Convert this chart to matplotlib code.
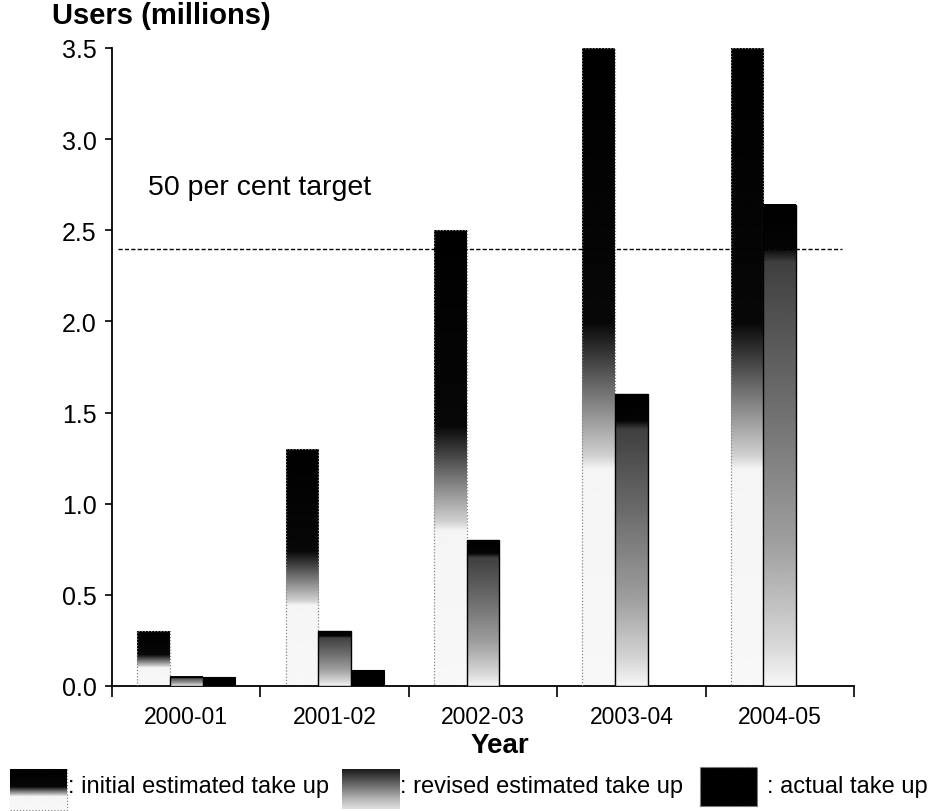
import numpy as np
import matplotlib
matplotlib.use("Agg")
import matplotlib.pyplot as plt
from matplotlib.patches import Rectangle
from matplotlib.ticker import FixedLocator, FormatStrFormatter

plt.rcParams['font.family'] = ['Liberation Sans', 'DejaVu Sans']

# Take-up of the service, millions of users
years = ["2000-01", "2001-02", "2002-03", "2003-04", "2004-05"]
initial_estimate = [0.30, 1.30, 2.50, 3.50, 3.50]
revised_estimate = [0.05, 0.30, 0.80, 1.60, 2.64]
actual_take_up = [0.05, 0.09, 0.0, 0.0, 0.0]
target = 2.4
target_label = "50 per cent target"

W, H = 930, 812
fig = plt.figure(figsize=(W / 100, H / 100), dpi=100)
ax = fig.add_axes([112 / W, 125 / H, 742 / W, 638 / H])


def initial_profile(f):
    # black upper part fading through grey to white lower part
    return np.interp(f, [0.0, 0.34, 0.36, 0.46, 0.57, 1.0],
                     [0.97, 0.96, 0.82, 0.45, 0.03, 0.0])


def revised_profile(f):
    # short black cap, then a long grey ramp down to near white
    return np.interp(f, [0.0, 0.08, 0.3, 0.6, 0.88, 0.91, 1.0],
                     [0.97, 0.85, 0.62, 0.42, 0.25, 0.02, 0.0])


def gradient_bar(target_ax, x0, width, height, profile, zorder=2):
    f = np.linspace(0, 1, 400)
    img = profile(f)[::-1].reshape(-1, 1)
    target_ax.imshow(img, cmap="gray", vmin=0, vmax=1, origin="upper",
                     extent=[x0, x0 + width, 0, height], aspect="auto",
                     interpolation="bilinear", zorder=zorder)


bw = 0.22
x = np.arange(len(years))

for i in range(len(years)):
    # initial estimate
    h = initial_estimate[i]
    x0 = x[i] - 1.5 * bw
    gradient_bar(ax, x0, bw, h, initial_profile, zorder=2)
    ax.add_patch(Rectangle((x0, 0), bw, h, facecolor="none", edgecolor="#888888",
                           lw=0.9, linestyle=(0, (1, 1.5)), zorder=3))
    # revised estimate
    h = revised_estimate[i]
    x0 = x[i] - 0.5 * bw
    gradient_bar(ax, x0, bw, h, revised_profile, zorder=4)
    ax.add_patch(Rectangle((x0, 0), bw, h, facecolor="none", edgecolor="black",
                           lw=1.0, zorder=5))
    # actual take up
    h = actual_take_up[i]
    if h > 0:
        x0 = x[i] + 0.5 * bw
        ax.add_patch(Rectangle((x0, 0), bw, h, facecolor="black",
                               edgecolor="black", lw=0.8, zorder=5))

ax.plot([-0.46, 4.42], [target, target], color="black", lw=1.0,
        linestyle=(0, (3, 1.6)), zorder=6)
ax.text(-0.257, 2.74, target_label, fontsize=20.5, ha="left", va="center")

ax.set_xlim(-0.5, 4.5)
ax.set_ylim(0, 3.5)

for side in ("top", "right"):
    ax.spines[side].set_visible(False)
for side in ("left", "bottom"):
    ax.spines[side].set_linewidth(1.3)
    ax.spines[side].set_color("black")

ax.set_yticks(np.arange(0, 3.51, 0.5))
ax.yaxis.set_major_formatter(FormatStrFormatter("%.1f"))
ax.tick_params(axis="y", direction="out", length=5, width=1.2, pad=6,
               labelsize=18)

ax.set_xticks(x)
ax.set_xticklabels(years)
ax.tick_params(axis="x", which="major", length=0, pad=14, labelsize=16.5)
ax.xaxis.set_minor_locator(FixedLocator(np.arange(-0.5, 4.51, 1.0)))
ax.tick_params(axis="x", which="minor", direction="out", length=8, width=1.2)

fig.text(52 / W, 1 - 16 / H, "Users (millions)", fontsize=21, fontweight="bold",
         ha="left", va="center")
fig.text(500 / W, 1 - 746 / H, "Year", fontsize=20, fontweight="bold",
         ha="center", va="center")

# legend keys drawn as small image axes
def key_axes(x0, y0, x1, y1):
    k = fig.add_axes([x0 / W, 1 - y1 / H, (x1 - x0) / W, (y1 - y0) / H])
    k.set_xlim(0, 1)
    k.set_ylim(0, 1)
    k.axis("off")
    return k


k1 = key_axes(10, 770, 67, 811)
gradient_bar(k1, 0, 1, 1, initial_profile)
k1.add_patch(Rectangle((0, 0), 1, 1, facecolor="none", edgecolor="#888888",
                       lw=0.9, linestyle=(0, (1, 1.5)), clip_on=False))

k2 = key_axes(342, 770, 400, 810)
gradient_bar(k2, 0, 1, 1, lambda f: np.interp(f, [0, 0.2, 1], [0.88, 0.75, 0.1]))

k3 = key_axes(700, 768, 757, 807)
k3.add_patch(Rectangle((0, 0), 1, 1, facecolor="black", edgecolor="#777777",
                       lw=0.9, linestyle=(0, (1, 1.5)), clip_on=False))

legend_y = 1 - 787 / H
fig.text(68 / W, legend_y, ": initial estimated take up", fontsize=17,
         ha="left", va="center")
fig.text(400 / W, legend_y, ": revised estimated take up", fontsize=17,
         ha="left", va="center")
fig.text(767 / W, legend_y, ": actual take up", fontsize=17,
         ha="left", va="center")

fig.savefig("out.png", dpi=100)
